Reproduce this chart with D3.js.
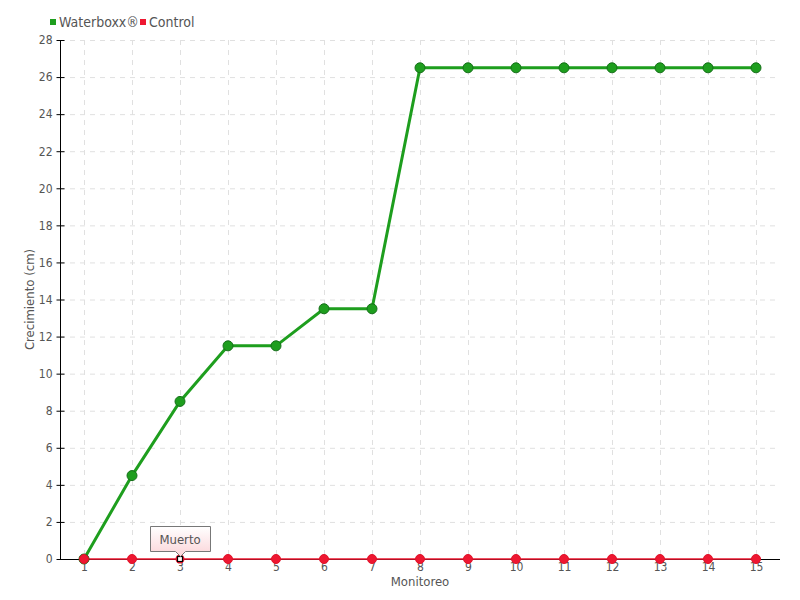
<!DOCTYPE html>
<html>
<head>
<meta charset="utf-8">
<script src="https://cdn.jsdelivr.net/npm/d3@7"></script>
<style>
  body { margin: 0; background: #fff; }
  text { font-family: "DejaVu Sans Condensed", "Liberation Sans Narrow", sans-serif; }
</style>
</head>
<body>
<div id="chart"></div>
<script>
// Datos
const monitoreos = [1, 2, 3, 4, 5, 6, 7, 8, 9, 10, 11, 12, 13, 14, 15];
const waterboxx = [0, 4.5, 8.5, 11.5, 11.5, 13.5, 13.5, 26.5, 26.5, 26.5, 26.5, 26.5, 26.5, 26.5, 26.5];
const control = [0, 0, 0, 0, 0, 0, 0, 0, 0, 0, 0, 0, 0, 0, 0];
const yTicks = [0, 2, 4, 6, 8, 10, 12, 14, 16, 18, 20, 22, 24, 26, 28];
const tooltipIndex = 2;
const tooltipText = "Muerto";

const width = 800;
const height = 600;
const margin = { top: 40, right: 20, bottom: 41, left: 60 };

const green = "#1e9e1e";
const red = "#ee1731";

const svg = d3.select("#chart").append("svg")
  .attr("width", width)
  .attr("height", height);

const x = d3.scalePoint()
  .domain(monitoreos)
  .range([margin.left, width - margin.right])
  .padding(0.5);

const y = d3.scaleLinear()
  .domain([0, 28])
  .range([height - margin.bottom, margin.top]);

// Rejilla
const grid = svg.append("g");
grid.selectAll("line.h")
  .data(yTicks.slice(1))
  .join("line")
  .attr("x1", margin.left)
  .attr("x2", width - margin.right)
  .attr("y1", d => y(d) + 0.5)
  .attr("y2", d => y(d) + 0.5)
  .attr("stroke", "#e0e0e0")
  .attr("stroke-dasharray", "5,5");
grid.selectAll("line.v")
  .data(monitoreos)
  .join("line")
  .attr("x1", d => x(d) + 0.5)
  .attr("x2", d => x(d) + 0.5)
  .attr("y1", margin.top)
  .attr("y2", height - margin.bottom)
  .attr("stroke", "#e0e0e0")
  .attr("stroke-dasharray", "5,5");

// Ejes
const xAxisG = svg.append("g")
  .attr("transform", `translate(0, ${y(0) + 0.5})`)
  .call(d3.axisBottom(x).tickSize(0).tickPadding(3));
xAxisG.select(".domain").remove();
xAxisG.append("line")
  .attr("x1", margin.left)
  .attr("x2", width - margin.right)
  .attr("stroke", "#000");

const yAxisG = svg.append("g")
  .attr("transform", `translate(${margin.left + 0.5}, 0)`)
  .call(d3.axisLeft(y).tickValues(yTicks).tickSize(4).tickPadding(4));
yAxisG.select(".domain").attr("d", `M0,${margin.top}V${y(0)}`);
yAxisG.selectAll(".tick line").attr("x2", 4).attr("x1", -4);

svg.selectAll(".tick text")
  .attr("fill", "#555")
  .style("font-size", "12px");

// Títulos de ejes
svg.append("text")
  .attr("x", (margin.left + width - margin.right) / 2)
  .attr("y", 586)
  .attr("text-anchor", "middle")
  .attr("fill", "#555")
  .style("font-size", "13px")
  .text("Monitoreo");

svg.append("text")
  .attr("transform", `translate(34, ${(margin.top + y(0)) / 2}) rotate(-90)`)
  .attr("text-anchor", "middle")
  .attr("fill", "#555")
  .style("font-size", "13px")
  .text("Crecimiento (cm)");

// Líneas
const line = d3.line()
  .x((d, i) => x(monitoreos[i]))
  .y(d => y(d));

svg.append("path")
  .datum(control)
  .attr("fill", "none")
  .attr("stroke", red)
  .attr("stroke-width", 1.5)
  .attr("d", line);

svg.append("path")
  .datum(waterboxx)
  .attr("fill", "none")
  .attr("stroke", green)
  .attr("stroke-width", 3)
  .attr("d", line);

svg.append("g")
  .selectAll("circle")
  .data(waterboxx)
  .join("circle")
  .attr("cx", (d, i) => x(monitoreos[i]))
  .attr("cy", d => y(d))
  .attr("r", 5)
  .attr("fill", green)
  .attr("stroke", "#16701a")
  .attr("stroke-width", 1);

svg.append("g")
  .selectAll("circle")
  .data(control)
  .join("circle")
  .attr("cx", (d, i) => x(monitoreos[i]))
  .attr("cy", d => y(d))
  .attr("r", 4.5)
  .attr("fill", (d, i) => i === tooltipIndex ? "none" : red)
  .attr("stroke", (d, i) => i === tooltipIndex ? "none" : "#e01228");

// Punto resaltado
const hx = x(monitoreos[tooltipIndex]);
const hy = y(control[tooltipIndex]);
svg.append("circle")
  .attr("cx", hx).attr("cy", hy).attr("r", 4.5)
  .attr("fill", red);
svg.append("rect")
  .attr("x", hx - 2.5).attr("y", hy - 2.5)
  .attr("width", 5).attr("height", 5)
  .attr("fill", "#fff")
  .attr("stroke", "#000")
  .attr("stroke-width", 1.2);

// Tooltip
const defs = svg.append("defs");
const grad = defs.append("linearGradient")
  .attr("id", "tipGrad")
  .attr("x1", 0).attr("y1", 0).attr("x2", 0).attr("y2", 1);
grad.append("stop").attr("offset", "0%").attr("stop-color", "#ffffff");
grad.append("stop").attr("offset", "100%").attr("stop-color", "#fbd4d8");

const tw = 60, th = 25;
const tx = hx - 30, ty = hy - 33;
svg.append("path")
  .attr("d", `M${tx + 0.5},${ty + 0.5}h${tw}v${th}h${-(tw / 2 - 5)}l-5,5l-5,-5h${-(tw / 2 - 5)}z`)
  .attr("fill", "url(#tipGrad)")
  .attr("stroke", "#777")
  .attr("stroke-width", 1);
svg.append("text")
  .attr("x", tx + tw / 2)
  .attr("y", ty + 17.5)
  .attr("text-anchor", "middle")
  .attr("fill", "#555")
  .style("font-size", "13px")
  .text(tooltipText);

// Leyenda
const legend = [
  { name: "Waterboxx®", color: green, x: 50 },
  { name: "Control", color: red, x: 140 }
];
const lg = svg.append("g").selectAll("g")
  .data(legend)
  .join("g")
  .attr("transform", d => `translate(${d.x}, 22)`);
lg.append("rect")
  .attr("x", 0).attr("y", -3)
  .attr("width", 6).attr("height", 6)
  .attr("fill", d => d.color);
lg.append("text")
  .attr("x", 9)
  .attr("y", 5)
  .attr("fill", "#555")
  .style("font-size", "14px")
  .text(d => d.name);
</script>
</body>
</html>
